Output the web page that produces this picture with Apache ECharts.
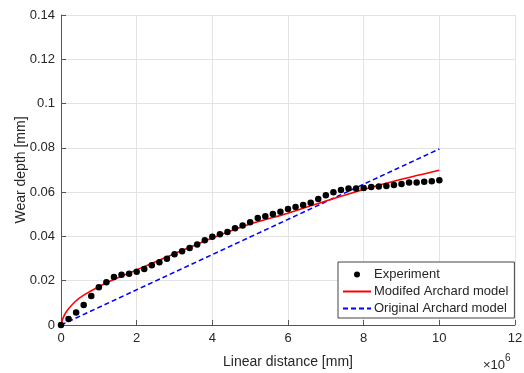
<!DOCTYPE html>
<html>
<head>
<meta charset="utf-8">
<script src="https://cdn.jsdelivr.net/npm/echarts@6/dist/echarts.min.js"></script>
<style>
  html, body { margin: 0; padding: 0; background: #fff; }
  #main { width: 524px; height: 373px; }
</style>
</head>
<body>
<div id="main"></div>
<script>
// x values in units of 1e6 mm
const expX = [0, 0.2, 0.4, 0.6, 0.8, 1.0, 1.2, 1.4, 1.6, 1.8, 2.0, 2.2, 2.4, 2.6, 2.8, 3.0, 3.2, 3.4, 3.6, 3.8,
  4.0, 4.2, 4.4, 4.6, 4.8, 5.0, 5.2, 5.4, 5.6, 5.8, 6.0, 6.2, 6.4, 6.6, 6.8, 7.0, 7.2, 7.4, 7.6, 7.8,
  8.0, 8.2, 8.4, 8.6, 8.8, 9.0, 9.2, 9.4, 9.6, 9.8, 10.0]
const expY = [0, 0.0027, 0.0057, 0.0090, 0.0131, 0.0170, 0.0193, 0.0217, 0.0227, 0.0232, 0.0241, 0.0253, 0.0270, 0.0283, 0.0299, 0.0319, 0.0333, 0.0348, 0.0363, 0.0383,
  0.0399, 0.0410, 0.0420, 0.0437, 0.0449, 0.0464, 0.0483, 0.0491, 0.0501, 0.0512, 0.0524, 0.0533, 0.0542, 0.0552, 0.0569, 0.0586, 0.0599, 0.0610, 0.0616, 0.0617,
  0.0619, 0.0623, 0.0626, 0.0628, 0.0632, 0.0637, 0.0643, 0.0644, 0.0647, 0.0649, 0.0654]

// modified Archard model
const modX = [0, 0.05, 0.15, 0.37, 0.6, 1.0, 1.5, 2, 3, 4, 5, 6, 7, 8, 9, 10]
const modY = [0, 0.0030, 0.0062, 0.0105, 0.0135, 0.0173, 0.0213, 0.0249, 0.0322, 0.0393, 0.0456, 0.0505, 0.0560, 0.0612, 0.0658, 0.0699]

// original Archard model (straight line)
const origX = [0, 10]
const origY = [0, 0.0795]

const xTicks = [0, 2, 4, 6, 8, 10, 12]
const yTicks = [0, 0.02, 0.04, 0.06, 0.08, 0.1, 0.12, 0.14]

const zip = (xs, ys) => xs.map((x, i) => [x, ys[i]])

const chart = echarts.init(document.getElementById('main'))
const font = 'Liberation Sans, Arial, sans-serif'
const textColor = '#262626'

chart.setOption({
  backgroundColor: '#fff',
  animation: false,
  textStyle: { fontFamily: font },
  grid: { left: 61, right: 9, top: 15, bottom: 48, outerBoundsMode: 'none', containLabel: false },
  xAxis: {
    type: 'value',
    min: xTicks[0],
    max: xTicks[xTicks.length - 1],
    interval: 2,
    name: 'Linear distance [mm]',
    nameLocation: 'middle',
    nameGap: 30,
    nameMoveOverlap: false,
    nameTextStyle: { fontSize: 14, color: textColor, fontFamily: font },
    axisLine: { lineStyle: { color: '#555', width: 1 } },
    axisTick: { inside: true, length: 5, lineStyle: { color: '#555' } },
    axisLabel: { fontSize: 13, color: textColor, margin: 7, fontFamily: font },
    splitLine: { show: true, lineStyle: { color: '#e3e3e3', width: 1 } }
  },
  yAxis: {
    type: 'value',
    min: yTicks[0],
    max: yTicks[yTicks.length - 1],
    interval: 0.02,
    name: 'Wear depth [mm]',
    nameLocation: 'middle',
    nameGap: 33,
    nameMoveOverlap: false,
    nameTextStyle: { fontSize: 14, color: textColor, fontFamily: font },
    axisLine: { show: true, lineStyle: { color: '#555', width: 1 } },
    axisTick: { show: true, inside: true, length: 5, lineStyle: { color: '#555' } },
    axisLabel: {
      fontSize: 13, color: textColor, margin: 6, fontFamily: font,
      formatter: v => String(parseFloat(v.toFixed(2)))
    },
    splitLine: { show: true, lineStyle: { color: '#e3e3e3', width: 1 } }
  },
  legend: {
    orient: 'vertical',
    left: 338,
    top: 262,
    width: 170,
    padding: [6, 6, 3, 4],
    itemWidth: 28,
    itemHeight: 6,
    itemGap: 4,
    backgroundColor: '#fff',
    borderColor: '#444',
    borderWidth: 1,
    borderRadius: 0,
    textStyle: { fontSize: 13, color: textColor, fontFamily: font, padding: [0, 0, 0, -2] },
    data: [
      { name: 'Experiment', icon: 'circle', itemStyle: { color: '#000', opacity: 1 } },
      { name: 'Modifed Archard model', itemStyle: { opacity: 0 } },
      { name: 'Original Archard model', itemStyle: { opacity: 0 } }
    ]
  },
  graphic: [{
    type: 'text',
    left: 483,
    top: 353,
    style: {
      text: '{a|×10}{b|6}',
      fill: textColor,
      rich: {
        a: { fontSize: 13, fontFamily: font, fill: textColor, verticalAlign: 'bottom', padding: [6, 0, 0, 0] },
        b: { fontSize: 10, fontFamily: font, fill: textColor, verticalAlign: 'top' }
      }
    }
  }],
  series: [
    {
      name: 'Original Archard model',
      type: 'line',
      data: zip(origX, origY),
      symbol: 'none',
      lineStyle: { color: '#0000ff', width: 1.6, type: [5, 3] },
      itemStyle: { color: '#0000ff' },
      z: 2
    },
    {
      name: 'Modifed Archard model',
      type: 'line',
      data: zip(modX, modY),
      symbol: 'none',
      smooth: 0.3,
      lineStyle: { color: '#ff0000', width: 1.6 },
      itemStyle: { color: '#ff0000' },
      z: 3
    },
    {
      name: 'Experiment',
      type: 'scatter',
      data: zip(expX, expY),
      symbol: 'circle',
      symbolSize: 6.5,
      itemStyle: { color: '#000', opacity: 1 },
      z: 4
    }
  ]
})
</script>
</body>
</html>
